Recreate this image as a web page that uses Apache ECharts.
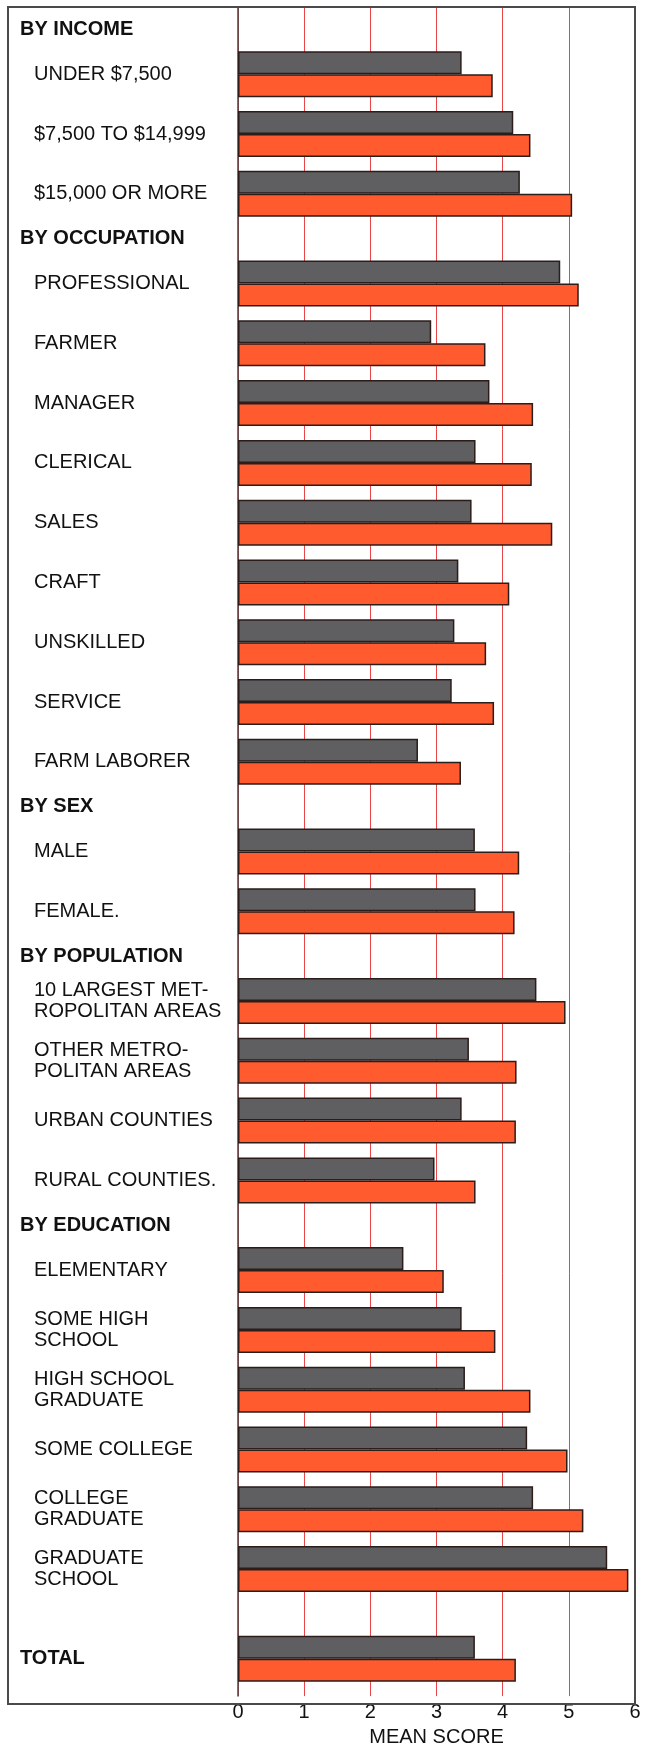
<!DOCTYPE html>
<html style="height: 100%">
<head>
    <meta charset="utf-8">
    <style type="text/css">
        body { margin: 0; background: #fff; }
        #container { width: 652px; height: 1752px; }
    </style>
</head>
<body>
<div id="container"></div>
<script src="https://cdn.jsdelivr.net/npm/echarts@6/dist/echarts.min.js"></script>
<script type="text/javascript">
    // group headings and how many rows sit under each one
    var groupTitles = ['BY INCOME', 'BY OCCUPATION', 'BY SEX', 'BY POPULATION', 'BY EDUCATION'];
    var groupSizes = [3, 9, 2, 4, 6];

    var categories = [
        'UNDER $7,500', '$7,500 TO $14,999', '$15,000 OR MORE',
        'PROFESSIONAL', 'FARMER', 'MANAGER', 'CLERICAL', 'SALES', 'CRAFT', 'UNSKILLED', 'SERVICE', 'FARM LABORER',
        'MALE', 'FEMALE.',
        '10 LARGEST MET-\nROPOLITAN AREAS', 'OTHER METRO-\nPOLITAN AREAS', 'URBAN COUNTIES', 'RURAL COUNTIES.',
        'ELEMENTARY', 'SOME HIGH\nSCHOOL', 'HIGH SCHOOL\nGRADUATE', 'SOME COLLEGE', 'COLLEGE\nGRADUATE', 'GRADUATE\nSCHOOL',
        'TOTAL'
    ];
    var grayValues = [
        3.38, 4.16, 4.26,
        4.87, 2.92, 3.80, 3.59, 3.53, 3.33, 3.27, 3.23, 2.72,
        3.58, 3.59,
        4.51, 3.49, 3.38, 2.97,
        2.50, 3.38, 3.43, 4.37, 4.46, 5.58,
        3.58
    ];
    var orangeValues = [
        3.85, 4.42, 5.05,
        5.15, 3.74, 4.46, 4.44, 4.75, 4.10, 3.75, 3.87, 3.37,
        4.25, 4.18,
        4.95, 4.21, 4.20, 3.59,
        3.11, 3.89, 4.42, 4.98, 5.22, 5.90,
        4.20
    ];
    var xTicks = [0, 1, 2, 3, 4, 5, 6];

    // lay the rows out on a fine category axis: 4 slots per row, headers in the gaps
    var slots = [];
    function blank(n) { for (var k = 0; k < n; k++) slots.push({ type: 'blank' }); }
    var row = 0;
    blank(1);
    groupTitles.forEach(function (t, gi) {
        if (gi > 0) blank(2);
        slots.push({ type: 'head', text: t });
        blank(2);
        for (var r = 0; r < groupSizes[gi]; r++) {
            if (r > 0) blank(3);
            slots.push({ type: 'row', idx: row++ });
        }
    });
    blank(5);
    slots.push({ type: 'total', idx: row++ });
    blank(2);

    var axisData = slots.map(function (s, i) { return 's' + i; });
    var graySeries = slots.map(function (s) { return s.idx != null ? grayValues[s.idx] : '-'; });
    var orangeSeries = slots.map(function (s) { return s.idx != null ? orangeValues[s.idx] : '-'; });

    var font = "'Liberation Sans', Arial, sans-serif";
    var chart = echarts.init(document.getElementById('container'));
    var option = {
        backgroundColor: '#ffffff',
        animation: false,
        textStyle: { fontFamily: font },
        grid: { left: 238, right: 17, top: 7, bottom: 48 },
        xAxis: {
            type: 'value',
            min: xTicks[0],
            max: xTicks[xTicks.length - 1],
            interval: 1,
            axisLine: { show: false },
            axisTick: { show: false },
            axisLabel: { margin: 6, fontSize: 20, color: '#111', fontFamily: font },
            splitLine: { show: true, lineStyle: { color: '#e8474a', width: 1 } },
            name: 'MEAN SCORE',
            nameLocation: 'middle',
            nameGap: 25,
            nameTextStyle: { fontSize: 20, color: '#111', fontFamily: font }
        },
        yAxis: {
            type: 'category',
            inverse: true,
            data: axisData,
            axisLine: { show: true, lineStyle: { color: '#444', width: 1.5 } },
            axisTick: { show: false },
            splitLine: { show: false },
            axisLabel: {
                interval: 0,
                align: 'left',
                margin: 218,
                formatter: function (v, i) {
                    var s = slots[i];
                    if (s.type === 'head') return '{h|' + s.text + '}';
                    if (s.type === 'total') return '{h|' + categories[s.idx] + '}';
                    if (s.type === 'row') {
                        return categories[s.idx].split('\n').map(function (l) { return '{s|' + l + '}'; }).join('\n');
                    }
                    return '';
                },
                rich: {
                    h: { fontSize: 20, fontWeight: 'bold', color: '#111', fontFamily: font, lineHeight: 21 },
                    s: { fontSize: 20, color: '#111', fontFamily: font, lineHeight: 21, padding: [0, 0, 0, 14] }
                }
            }
        },
        graphic: [{
            type: 'rect',
            z: 100,
            shape: { x: 8, y: 7, width: 627, height: 1697 },
            style: { fill: 'none', stroke: '#4a4a4a', lineWidth: 2 }
        }],
        series: [
            {
                name: 'gray',
                type: 'bar',
                barWidth: 23,
                barGap: '0%',
                data: graySeries,
                itemStyle: { color: '#5f5f61', borderColor: '#2b1d1a', borderWidth: 1.5 }
            },
            {
                name: 'orange',
                type: 'bar',
                barWidth: 23,
                barGap: '0%',
                data: orangeSeries,
                itemStyle: { color: '#ff5b2e', borderColor: '#2b1d1a', borderWidth: 1.5 }
            }
        ]
    };
    chart.setOption(option);
</script>
</body>
</html>
